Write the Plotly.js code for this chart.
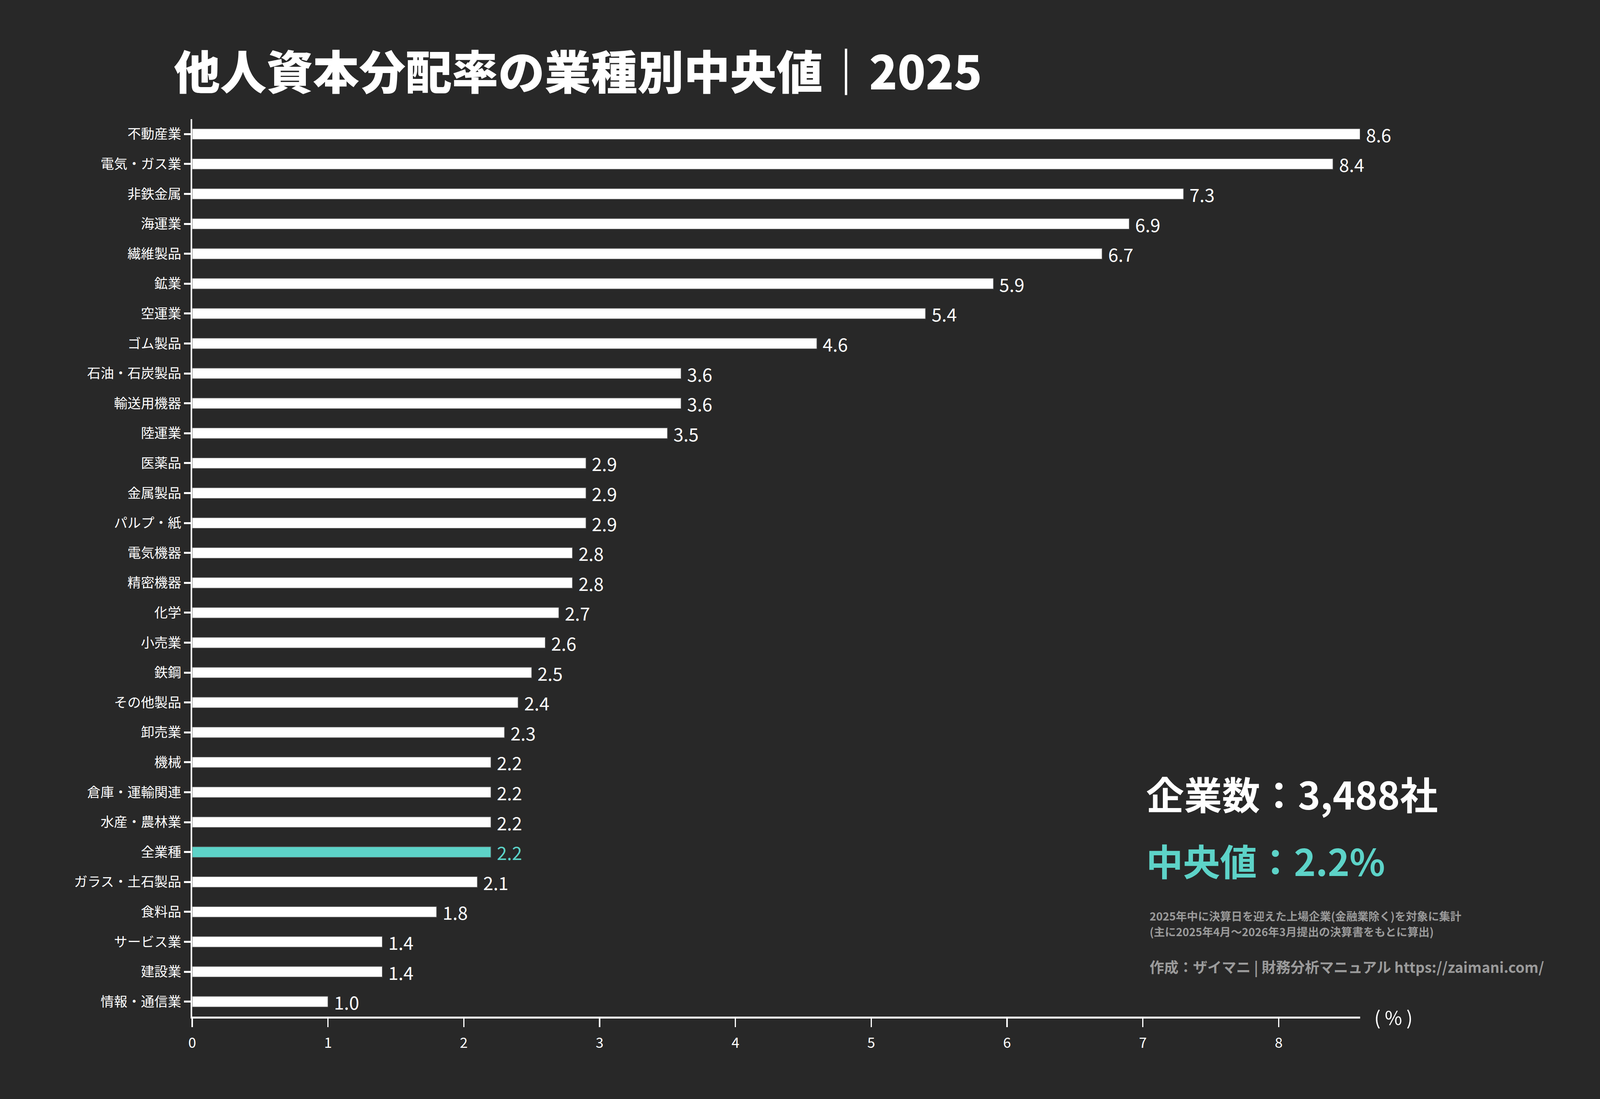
<!DOCTYPE html>
<html>
<head>
<meta charset="utf-8">
<script src="https://cdn.plot.ly/plotly-3.0.1.min.js"></script>
<style>
html,body{margin:0;padding:0;background:#282828;overflow:hidden;}
</style>
</head>
<body>
<div id="chart"></div>
<script>
const categories = [
  "不動産業","電気・ガス業","非鉄金属","海運業","繊維製品","鉱業","空運業","ゴム製品",
  "石油・石炭製品","輸送用機器","陸運業","医薬品","金属製品","パルプ・紙","電気機器","精密機器",
  "化学","小売業","鉄鋼","その他製品","卸売業","機械","倉庫・運輸関連","水産・農林業",
  "全業種","ガラス・土石製品","食料品","サービス業","建設業","情報・通信業"
];
const values = [
  8.6,8.4,7.3,6.9,6.7,5.9,5.4,4.6,
  3.6,3.6,3.5,2.9,2.9,2.9,2.8,2.8,
  2.7,2.6,2.5,2.4,2.3,2.2,2.2,2.2,
  2.2,2.1,1.8,1.4,1.4,1.0
];
const xTicks = [0,1,2,3,4,5,6,7,8];
const highlight = "全業種";
const titleText = "他人資本分配率の業種別中央値｜2025";
const companyText = "企業数：3,488社";
const medianText = "中央値：2.2%";
const note1 = "2025年中に決算日を迎えた上場企業(金融業除く)を対象に集計";
const note2 = "(主に2025年4月〜2026年3月提出の決算書をもとに算出)";
const credit = "作成：ザイマニ | 財務分析マニュアル https://zaimani.com/";
const unitLabel = "( % )";

const WHITE = "#ffffff", TEAL = "#5dd3c8", BG = "#282828", GREY = "#9b9b9b";
const FONT = "Noto Sans CJK JP";

// Fill the actual viewport; design coordinates are the 5000x2814 reference pixels
const W = window.innerWidth || 5000;
const H = window.innerHeight || 2814;
const sx = W / 5000, sy = H / 2814;
const X = v => v * sx, Y = v => v * sy, F = v => v * Math.min(sx * 1.05, sy);

const chartDiv = document.getElementById("chart");
chartDiv.style.width = W + "px";
chartDiv.style.height = H + "px";

const colors = categories.map(c => c === highlight ? TEAL : WHITE);

const trace = {
  type: "bar",
  orientation: "h",
  y: categories,
  x: values,
  width: 0.36,
  marker: {color: colors, line: {color: "#4a4a4a", width: X(2)}},
  hoverinfo: "skip"
};

const valueAnns = categories.map((c, i) => ({
  x: values[i], y: c, xref: "x", yref: "y",
  text: values[i].toFixed(1),
  showarrow: false, xanchor: "left", yanchor: "middle", xshift: X(16),
  font: {family: FONT, size: F(54), color: c === highlight ? TEAL : WHITE}
}));

const extraAnns = [
  {text: companyText, x: 0.8159, y: 0.2493, font: {size: F(113), color: WHITE, weight: 700}},
  {text: medianText, x: 0.8159, y: 0.1745, font: {size: F(110), color: TEAL, weight: 700}},
  {text: note1, x: 0.8192, y: 0.1127, font: {size: F(33), color: GREY, weight: 700}},
  {text: note2, x: 0.8192, y: 0.0949, font: {size: F(33), color: GREY, weight: 700}},
  {text: credit, x: 0.8192, y: 0.0557, font: {size: F(43), color: GREY, weight: 700}},
  {text: unitLabel, x: 1.0115, y: 0.0, font: {size: F(56), color: WHITE}}
].map(a => ({
  text: a.text, x: a.x, y: a.y, xref: "paper", yref: "paper",
  xanchor: "left", yanchor: "middle", showarrow: false,
  font: Object.assign({family: FONT}, a.font)
}));

const layout = {
  width: W, height: H,
  paper_bgcolor: BG, plot_bgcolor: BG,
  margin: {l: X(600), r: X(750), t: Y(305), b: Y(211), pad: 0},
  showlegend: false,
  title: {
    text: titleText,
    font: {family: FONT, size: F(138), color: WHITE, weight: 900},
    xref: "container", yref: "container",
    x: 0.1086, xanchor: "left", y: 1 - 187/2814, yanchor: "middle"
  },
  xaxis: {
    range: [0, 8.6],
    tickvals: xTicks,
    ticktext: xTicks.map(String),
    showgrid: false, zeroline: false,
    showline: true, linecolor: WHITE, linewidth: Y(5),
    ticks: "outside", ticklen: Y(22), tickwidth: X(4), tickcolor: WHITE,
    tickfont: {family: FONT, size: F(42), color: WHITE},
    ticklabelstandoff: Y(10)
  },
  yaxis: {
    type: "category",
    autorange: "reversed",
    showgrid: false, zeroline: false,
    showline: true, linecolor: WHITE, linewidth: X(5),
    ticks: "outside", ticklen: X(21), tickwidth: Y(5), tickcolor: WHITE,
    tickfont: {family: FONT, size: F(40), color: WHITE},
    ticklabelstandoff: X(25)
  },
  annotations: valueAnns.concat(extraAnns)
};

Plotly.newPlot(chartDiv, [trace], layout, {staticPlot: true, displayModeBar: false});
</script>
</body>
</html>
